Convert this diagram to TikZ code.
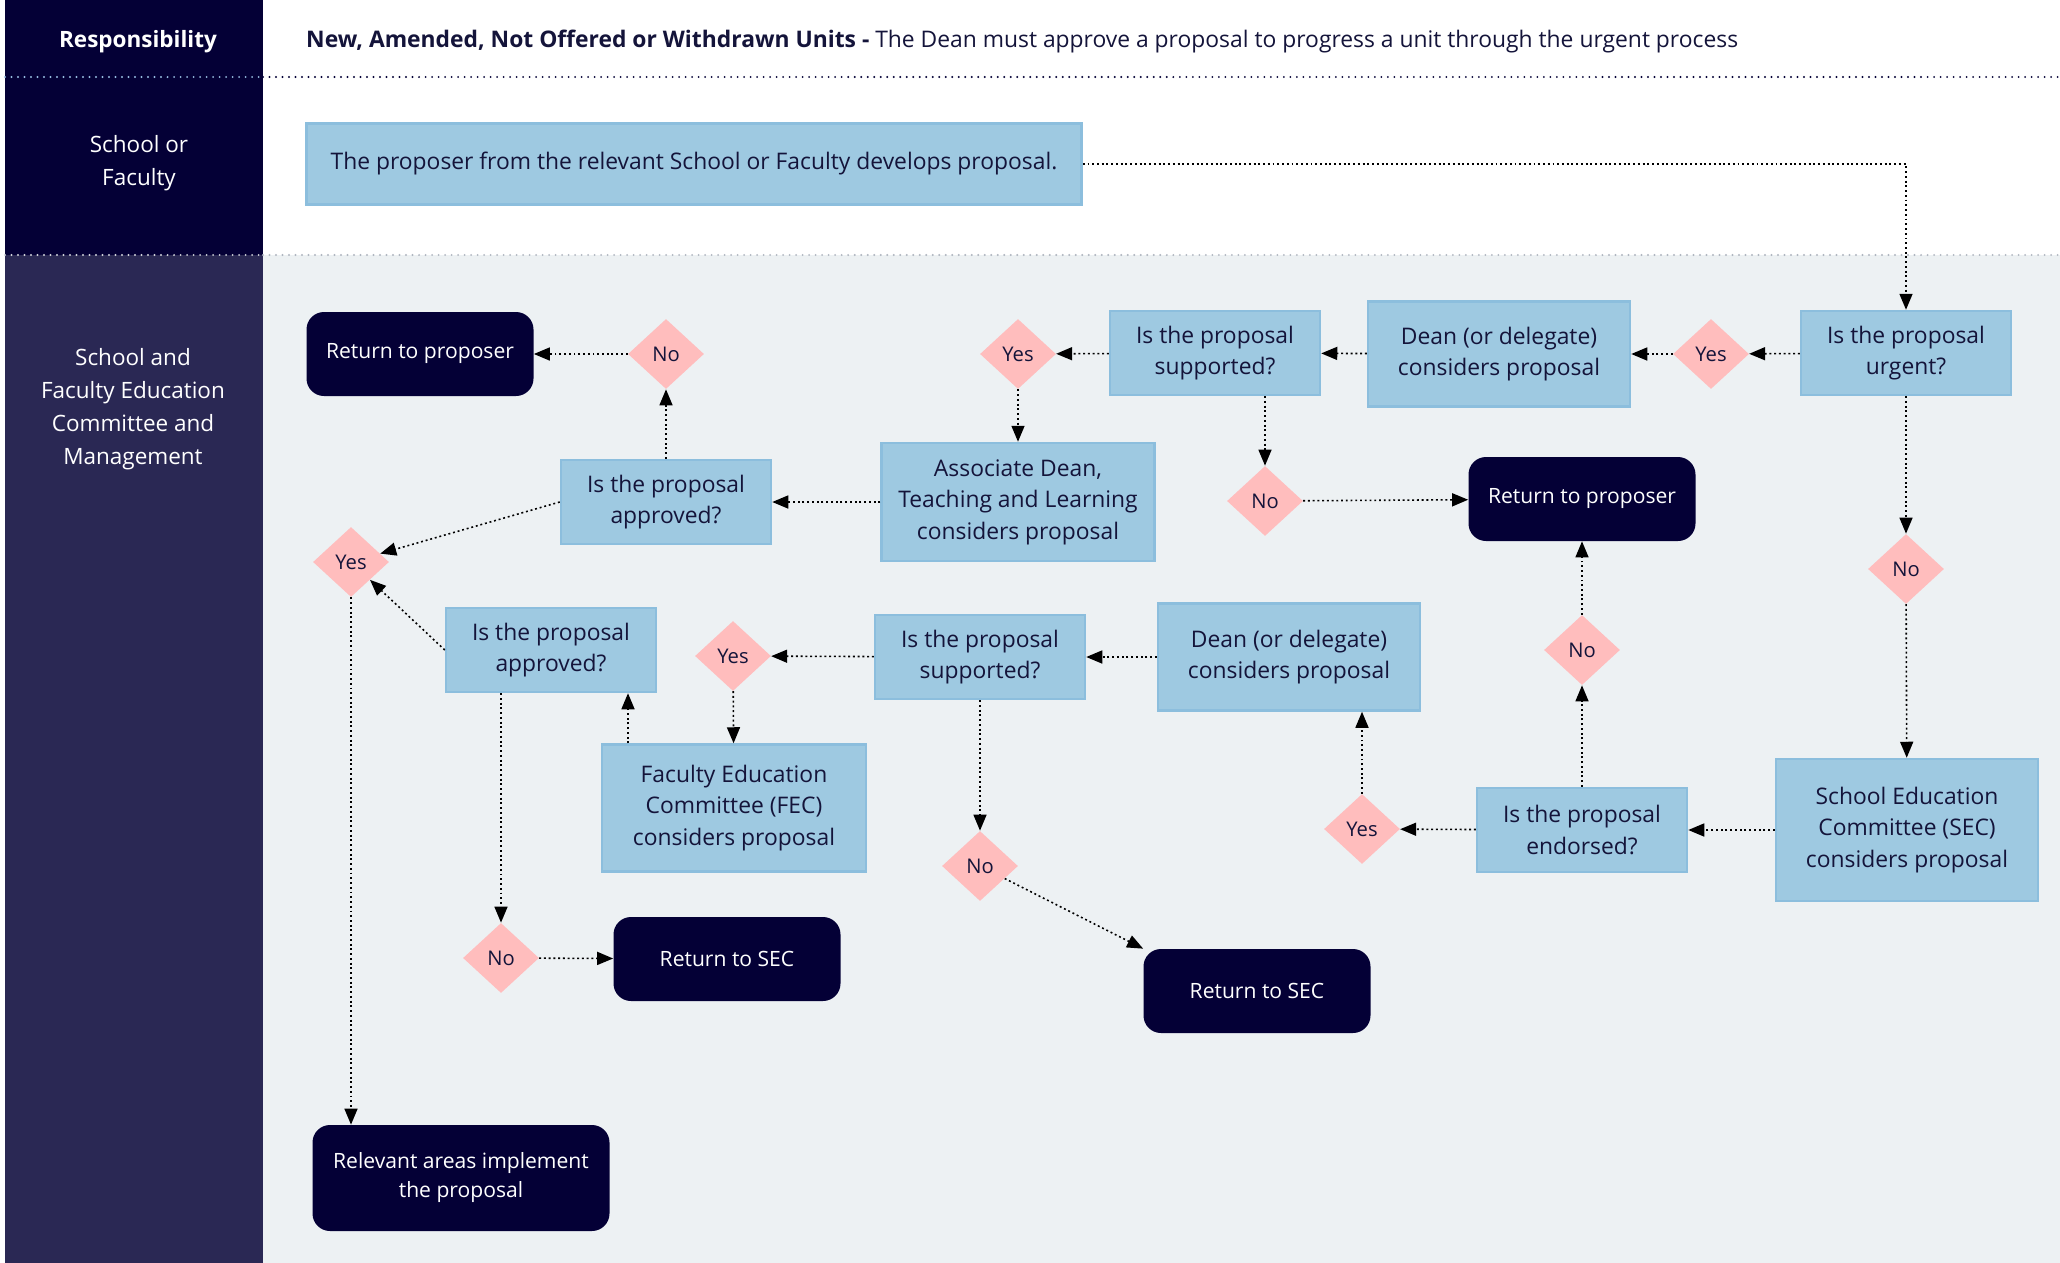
\documentclass[tikz,border=0pt]{standalone}
\usepackage{fontspec}
\setmainfont{Open Sans}
\usepackage{xcolor}
\usetikzlibrary{shapes.geometric,arrows.meta,positioning,calc}

\definecolor{navy}{RGB}{4,0,54}
\definecolor{lanenavy}{RGB}{42,40,84}
\definecolor{laneback}{RGB}{237,241,243}
\definecolor{boxblue}{RGB}{158,201,225}
\definecolor{boxedge}{RGB}{140,190,221}
\definecolor{decpink}{RGB}{255,189,189}
\definecolor{inktext}{RGB}{20,20,58}
\definecolor{dotgray}{RGB}{176,182,192}
\definecolor{dotlight}{RGB}{150,190,225}

\begin{document}
\begin{tikzpicture}[
    x=0.2mm, y=-0.2mm,
    box/.style={rectangle, draw=boxedge, line width=0.5mm, fill=boxblue, text=inktext, minimum width=42mm, minimum height=16.8mm, align=center, font=\fontsize{13}{18}\selectfont, inner sep=2pt},
    decision/.style={diamond, fill=decpink, text=inktext, minimum width=15.2mm, minimum height=14mm, inner sep=0pt, font=\fontsize{11.5}{14}\selectfont},
    terminal/.style={rectangle, rounded corners=3.5mm, fill=navy, text=white, minimum width=45.4mm, minimum height=16.8mm, align=center, font=\fontsize{12}{16.5}\selectfont},
    lanetext/.style={text=white, align=center, font=\fontsize{12.8}{18.7}\selectfont},
    arrow/.style={line width=0.9pt, dash pattern=on 1.1pt off 1.6pt, -{Triangle[length=3.2mm,width=2.6mm]}},
    divider/.style={line width=1.2pt, line cap=round, dash pattern=on 0pt off 3.7pt}
]
    \useasboundingbox (0,0) rectangle (2060,1263);

    % Swimlane backgrounds
    \fill[white] (0,0) rectangle (2060,1263);
    \fill[laneback] (263,255) rectangle (2060,1263);
    \fill[navy] (5,0) rectangle (263,255);
    \fill[lanenavy] (5,255) rectangle (263,1263);
    \draw[divider, dotlight] (5,77) -- (263,77);
    \draw[divider, navy] (263,77) -- (2060,77);
    \draw[divider, dotgray!60] (5,255) -- (263,255);
    \draw[divider, dotgray] (263,255) -- (2060,255);

    % Header and lane labels
    \node[lanetext, font=\fontsize{12.8}{16}\selectfont\bfseries] (resp) at (138,42) {Responsibility};
    \node[anchor=west, text=inktext, font=\fontsize{13}{16}\selectfont] (title) at (300,42) {\textbf{New, Amended, Not Offered or Withdrawn Units -} The Dean must approve a proposal to progress a unit through the urgent process};
    \node[lanetext] (lane1) at (139,163) {School or\\Faculty};
    \node[lanetext] (lane2) at (133,409) {School and\\Faculty Education\\Committee and\\Management};

    % School or Faculty lane
    \node[box, minimum width=155mm, minimum height=16.2mm] (prop) at (694,164) {The proposer from the relevant School or Faculty develops proposal.};

    % Urgent route via the Dean
    \node[box] (urg) at (1906,353) {Is the proposal\\urgent?};
    \node[decision] (yes2) at (1711,354) {Yes};
    \node[box, minimum width=52.4mm, minimum height=21mm] (dean1) at (1499,354) {Dean (or delegate)\\considers proposal};
    \node[box] (sup1) at (1215,353) {Is the proposal\\supported?};
    \node[decision] (yes1) at (1018,354) {Yes};
    \node[decision] (no2) at (1265,501) {No};
    \node[terminal] (ret2) at (1582,499) {Return to proposer};
    \node[box, minimum width=54.6mm, minimum height=23.6mm] (assoc) at (1018,502) {Associate Dean,\\Teaching and Learning\\considers proposal};
    \node[box] (appr1) at (666,502) {Is the proposal\\approved?};
    \node[decision] (no1) at (666,354) {No};
    \node[terminal] (ret1) at (420,354) {Return to proposer};
    \node[decision] (yes3) at (351,562) {Yes};

    % Non-urgent route via SEC and FEC
    \node[decision] (no3) at (1906,569) {No};
    \node[box, minimum width=52.4mm, minimum height=28.4mm] (sec) at (1907,830) {School Education\\Committee (SEC)\\considers proposal};
    \node[box] (endo) at (1582,830) {Is the proposal\\endorsed?};
    \node[decision] (no4) at (1582,650) {No};
    \node[decision] (yes5) at (1362,829) {Yes};
    \node[box, minimum width=52.4mm, minimum height=21.4mm] (dean2) at (1289,657) {Dean (or delegate)\\considers proposal};
    \node[box] (sup2) at (980,657) {Is the proposal\\supported?};
    \node[decision] (no5) at (980,866) {No};
    \node[terminal] (rsec2) at (1257,991) {Return to SEC};
    \node[decision] (yes4) at (733,656) {Yes};
    \node[box, minimum width=52.8mm, minimum height=25.4mm] (fec) at (734,808) {Faculty Education\\Committee (FEC)\\considers proposal};
    \node[box] (appr2) at (551,650) {Is the proposal\\approved?};
    \node[decision] (no6) at (501,958) {No};
    \node[terminal] (rsec1) at (727,959) {Return to SEC};
    \node[terminal, minimum width=59.4mm, minimum height=21.2mm] (impl) at (461,1178) {Relevant areas implement\\the proposal};

    % Connect top of process
    \draw[arrow] (prop.east) -| (urg.north);
    \draw[arrow] (urg) -- (yes2);
    \draw[arrow] (yes2) -- (dean1);
    \draw[arrow] (dean1) -- (sup1);
    \draw[arrow] (sup1) -- (yes1);
    \draw[arrow] (yes1) -- (assoc);
    \draw[arrow] (sup1.south -| no2.north) -- (no2);
    \draw[arrow] (no2) -- (ret2);
    \draw[arrow] (assoc) -- (appr1);
    \draw[arrow] (appr1) -- (no1);
    \draw[arrow] (no1) -- (ret1);
    \draw[arrow] (appr1.west) -- (yes3);

    % Non-urgent path
    \draw[arrow] (urg) -- (no3);
    \draw[arrow] (no3) -- (sec);
    \draw[arrow] (sec) -- (endo);
    \draw[arrow] (endo) -- (no4);
    \draw[arrow] (no4) -- (ret2);
    \draw[arrow] (endo) -- (yes5);
    \draw[arrow] (yes5) -- (yes5 |- dean2.south);
    \draw[arrow] (dean2) -- (sup2);
    \draw[arrow] (sup2) -- (yes4);
    \draw[arrow] (yes4) -- (fec);
    \draw[arrow] ([xshift=-21.2mm]fec.north) -- ([xshift=-21.2mm]fec.north |- appr2.south);
    \draw[arrow] (appr2.west) -- (yes3);
    \draw[arrow] (appr2.south -| no6.north) -- (no6);
    \draw[arrow] (no6) -- (rsec1);
    \draw[arrow] (sup2) -- (no5);
    \draw[arrow] (no5) -- (rsec2.north west);

    % Approved proposal is implemented
    \draw[arrow] (yes3) -- (yes3 |- impl.north);

\end{tikzpicture}
\end{document}
